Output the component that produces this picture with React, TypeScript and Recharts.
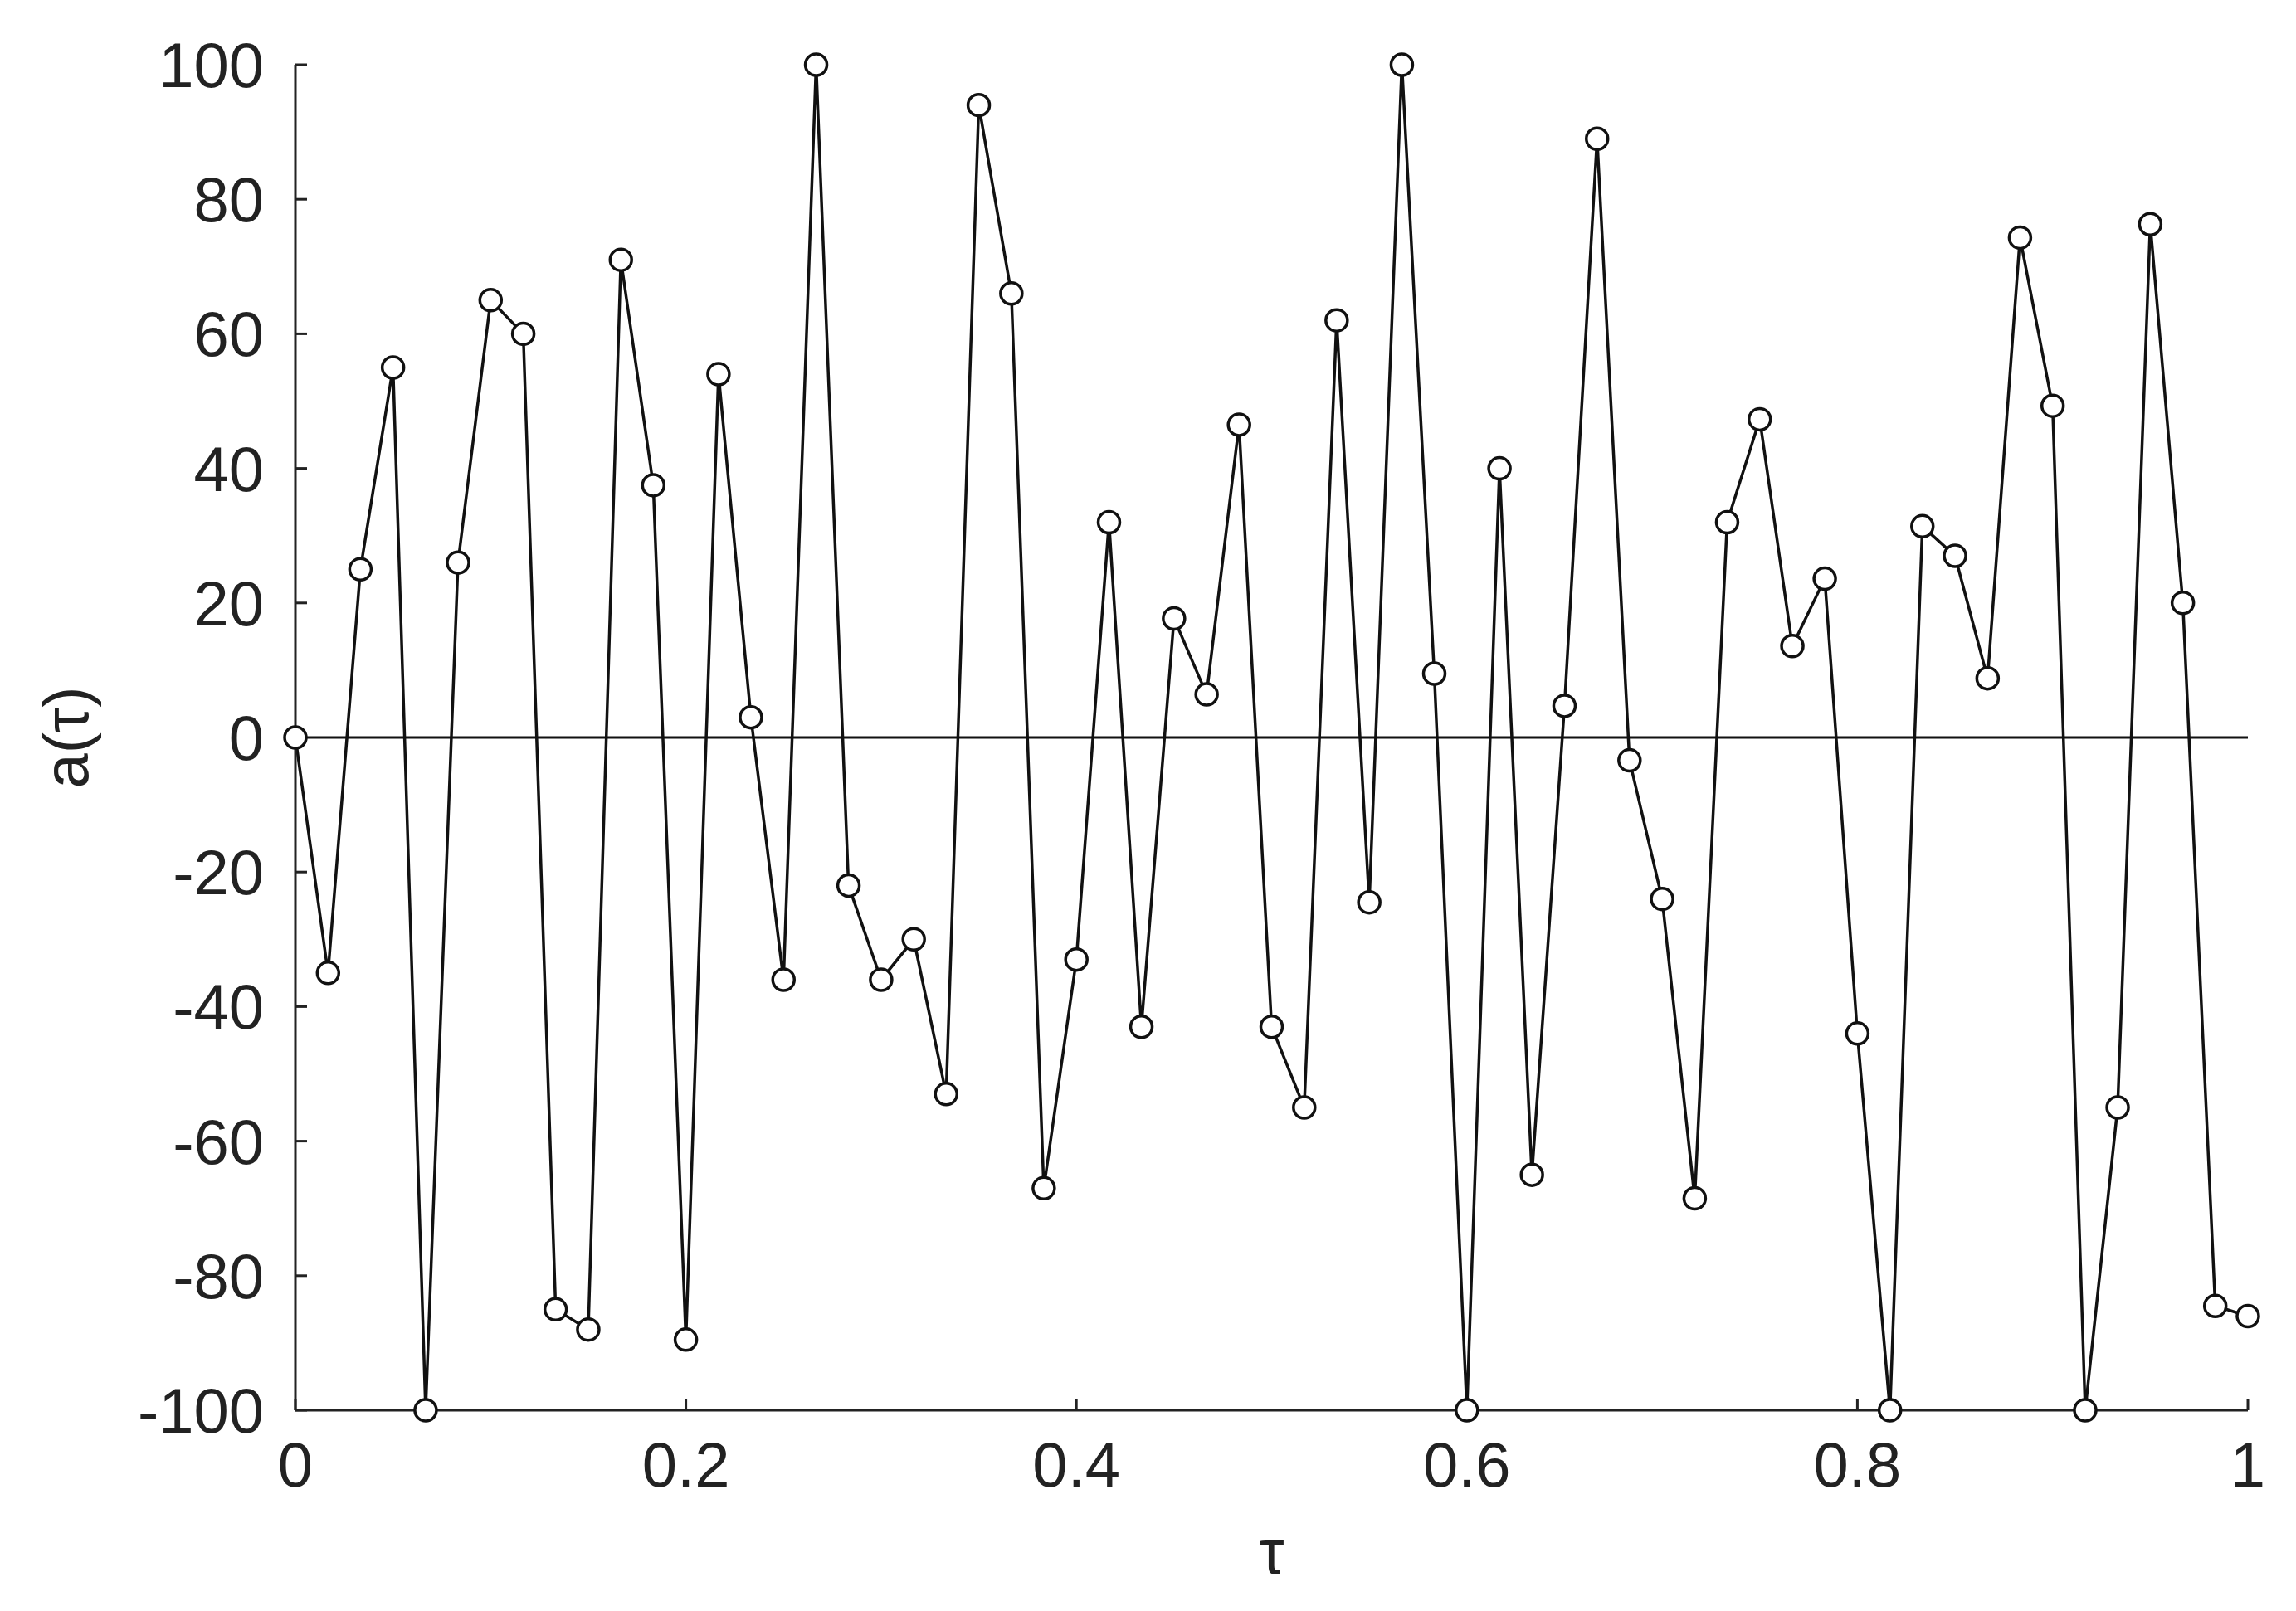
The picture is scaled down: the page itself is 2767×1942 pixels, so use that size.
import React from 'react';
import { LineChart, Line, XAxis, YAxis, ReferenceLine } from 'recharts';

const tau = [
  0, 0.0167, 0.0333, 0.05, 0.0667, 0.0833, 0.1, 0.1167, 0.1333, 0.15,
  0.1667, 0.1833, 0.2, 0.2167, 0.2333, 0.25, 0.2667, 0.2833, 0.3, 0.3167,
  0.3333, 0.35, 0.3667, 0.3833, 0.4, 0.4167, 0.4333, 0.45, 0.4667, 0.4833,
  0.5, 0.5167, 0.5333, 0.55, 0.5667, 0.5833, 0.6, 0.6167, 0.6333, 0.65,
  0.6667, 0.6833, 0.7, 0.7167, 0.7333, 0.75, 0.7667, 0.7833, 0.8, 0.8167,
  0.8333, 0.85, 0.8667, 0.8833, 0.9, 0.9167, 0.9333, 0.95, 0.9667, 0.9833, 1,
];

const amplitude = [
  0, -35, 25, 55, -100, 26, 65, 60, -85, -88,
  71, 37.5, -89.5, 54, 3, -36, 100, -22, -36, -30,
  -53, 94, 66, -67, -33, 32, -43, 17.7, 6.4, 46.5,
  -43, -55, 62, -24.5, 100, 9.5, -100, 40, -65, 4.7,
  89, -3.4, -24, -68.5, 32, 47.3, 13.6, 23.6, -44, -100,
  31.4, 27, 8.8, 74.3, 49.3, -100, -55, 76.3, 20, -84.5, -86,
];

const xTicks = [0, 0.2, 0.4, 0.6, 0.8, 1];
const yTicks = [-100, -80, -60, -40, -20, 0, 20, 40, 60, 80, 100];

const data = tau.map((t, i) => ({ t, a: amplitude[i] }));

const FONT = '"Liberation Sans", Arial, Helvetica, sans-serif';
const tickStyle = { fontSize: 76, fill: '#222', fontFamily: FONT };

export default function App() {
  return (
    <div style={{ position: 'absolute', left: 0, top: 0, background: '#fff' }}>
      <LineChart
        width={2767}
        height={1942}
        data={data}
        margin={{ top: 78, right: 58, left: 0, bottom: 0 }}
      >
        <XAxis
          type="number"
          dataKey="t"
          domain={[0, 1]}
          ticks={xTicks}
          height={242}
          tickSize={-14}
          tickMargin={52}
          tick={tickStyle}
          axisLine={{ stroke: '#222', strokeWidth: 3 }}
          tickLine={{ stroke: '#222', strokeWidth: 3 }}
          label={{
            value: 'τ',
            position: 'insideBottom',
            offset: 45,
            style: { fontSize: 76, fill: '#222', fontFamily: FONT },
          }}
        />
        <YAxis
          type="number"
          domain={[-100, 100]}
          ticks={yTicks}
          width={356}
          tickSize={-14}
          tickMargin={52}
          tick={tickStyle}
          axisLine={{ stroke: '#222', strokeWidth: 3 }}
          tickLine={{ stroke: '#222', strokeWidth: 3 }}
          label={{
            value: 'a(τ)',
            angle: -90,
            position: 'insideLeft',
            offset: 79,
            style: { fontSize: 76, fill: '#222', fontFamily: FONT, textAnchor: 'middle' },
          }}
        />
        <ReferenceLine y={0} stroke="#111" strokeWidth={3} />
        <Line
          type="linear"
          dataKey="a"
          stroke="#111"
          strokeWidth={3.5}
          isAnimationActive={false}
          dot={{ r: 13, fill: '#fff', stroke: '#111', strokeWidth: 3.5 }}
        />
      </LineChart>
    </div>
  );
}
